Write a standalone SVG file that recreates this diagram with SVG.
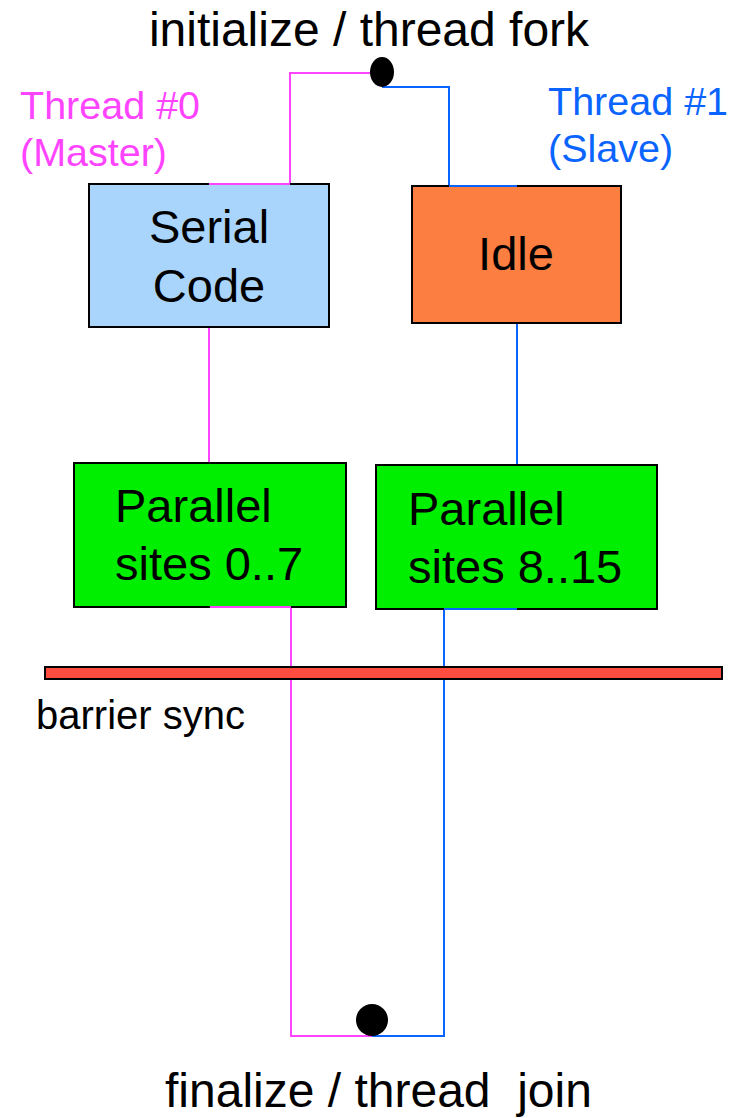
<svg xmlns="http://www.w3.org/2000/svg" width="741" height="1118" viewBox="0 0 741 1118">
<style>
text{font-family:"Liberation Sans",Arial,sans-serif;fill:#000}
.big{font-size:48px}
.box{font-size:47px}
.lbl{font-size:39.5px}
.pink{fill:#ff44ff}
.blue{fill:#0a64ff}
.node rect{stroke:#000;stroke-width:2}
.cp{fill:none;stroke:#ff44ff;stroke-width:2}
.cb{fill:none;stroke:#0a64ff;stroke-width:2}
</style>
<rect width="741" height="1118" fill="#fff"/>
<text class="big" x="369" y="46" text-anchor="middle">initialize / thread fork</text>
<text class="big" x="165" y="1107" style="white-space:pre">finalize / thread  join</text>
<text class="lbl pink" x="20" y="119">Thread #0</text>
<text class="lbl pink" x="20" y="166">(Master)</text>
<text class="lbl blue" x="548" y="115">Thread #1</text>
<text class="lbl blue" x="548" y="162">(Slave)</text>
<text x="36" y="729" style="font-size:40px">barrier sync</text>
<g id="connectors">
<path class="cp" d="M372 73 H290 V184 H209"/>
<path class="cb" d="M382 87 H449 V186 H517"/>
<path class="cp" d="M209 327 V463"/>
<path class="cb" d="M517 323 V465"/>
<path class="cp" d="M210 607 H291 V1036 H372"/>
<path class="cb" d="M517 609 H444 V1036 H372"/>
</g>
<g id="serial" class="node">
<rect x="89" y="184" width="240" height="143" fill="#a9d5fc"/>
<path class="cp" d="M209 184 H290"/>
<text class="box" x="209" y="243" text-anchor="middle">Serial</text>
<text class="box" x="209" y="302" text-anchor="middle">Code</text>
</g>
<g id="idle" class="node">
<rect x="412" y="186" width="209" height="137" fill="#fd7e41"/>
<path class="cb" d="M449 186 H517"/>
<text class="box" x="516" y="270" text-anchor="middle">Idle</text>
</g>
<g id="par0" class="node">
<rect x="74" y="463" width="272" height="144" fill="#00ee00"/>
<path class="cp" d="M210 607 H291"/>
<text class="box" x="115" y="522">Parallel</text>
<text class="box" x="115" y="580">sites 0..7</text>
</g>
<g id="par1" class="node">
<rect x="376" y="465" width="281" height="144" fill="#00ee00"/>
<path class="cb" d="M444 609 H517"/>
<text class="box" x="408" y="525">Parallel</text>
<text class="box" x="408" y="583">sites 8..15</text>
</g>
<g id="barrier" class="node">
<rect x="45" y="667" width="677" height="12" fill="#ff4c40" stroke="#000" stroke-width="1.5"/>
</g>
<g id="fork" class="node">
<ellipse cx="382" cy="72" rx="12" ry="15" fill="#000"/>
</g>
<g id="join" class="node">
<circle cx="372" cy="1020" r="16" fill="#000"/>
</g>
</svg>
